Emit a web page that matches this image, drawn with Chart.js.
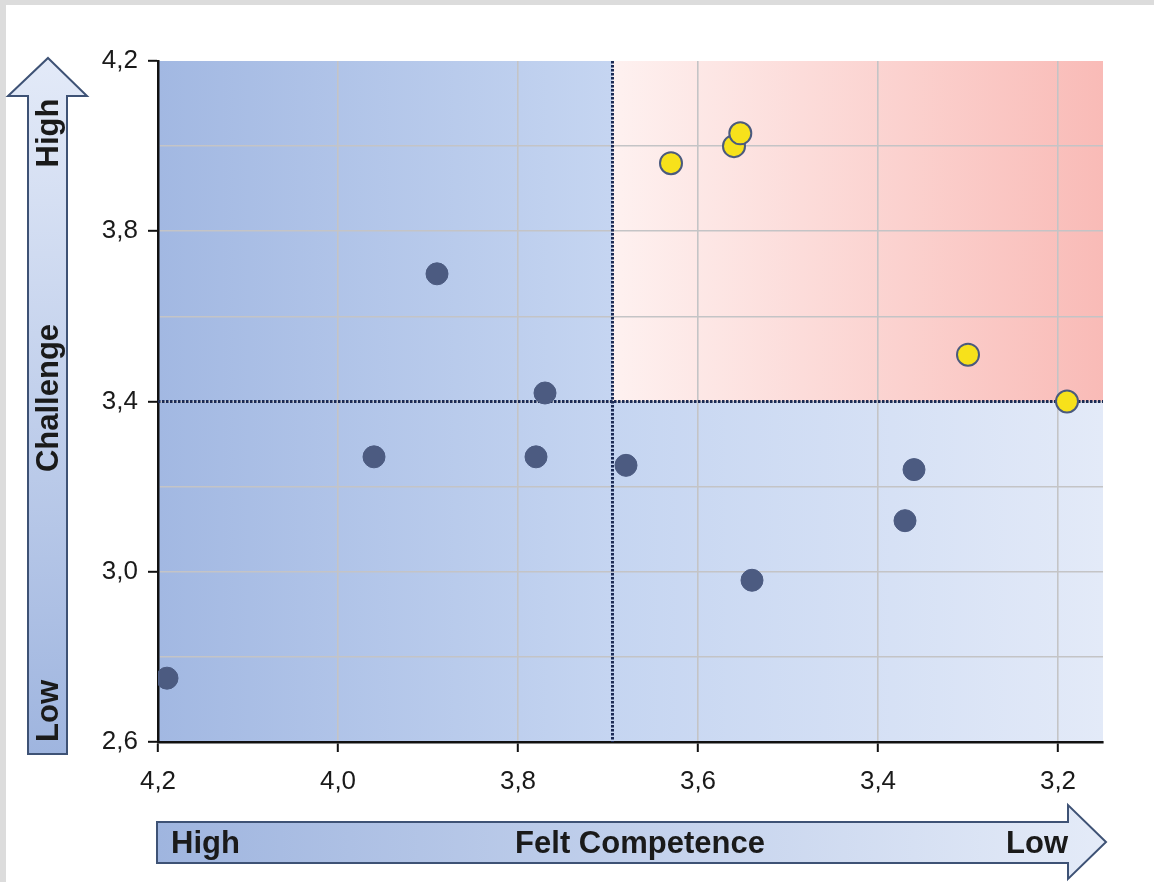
<!DOCTYPE html>
<html>
<head>
<meta charset="utf-8">
<script src="https://cdn.jsdelivr.net/npm/chart.js@4/dist/chart.umd.min.js"></script>
<style>
  html, body { margin: 0; padding: 0; background: #dcdcdc; }
  #panel { position: absolute; left: 6px; top: 5px; width: 1148px; height: 877px; background: #fff; }
  #chart { position: absolute; left: 0; top: 0; }
</style>
</head>
<body>
<div id="panel"></div>
<canvas id="chart" width="1154" height="882"></canvas>
<script>
// points outside the red quadrant (dark)
const otherCompetence = [4.19, 3.96, 3.89, 3.77, 3.78, 3.68, 3.54, 3.37, 3.36];
const otherChallenge  = [2.75, 3.27, 3.70, 3.42, 3.27, 3.25, 2.98, 3.12, 3.24];
// points in the red quadrant (yellow)
const redCompetence = [3.63, 3.56, 3.553, 3.30, 3.19];
const redChallenge  = [3.96, 4.00, 4.03, 3.51, 3.40];

const xTicks = [4.2, 4.0, 3.8, 3.6, 3.4, 3.2];
const yGrid = [2.6, 2.8, 3.0, 3.2, 3.4, 3.6, 3.8, 4.0, 4.2];
const yLabels = [2.6, 3.0, 3.4, 3.8, 4.2];
const xMin = 3.15, xMax = 4.2;
const yMin = 2.6, yMax = 4.2;
const splitCompetence = 3.695;
const splitChallenge = 3.4;

const FONT = '"Liberation Sans", Arial, sans-serif';

function toPoints(xs, ys) {
  var pts = [];
  for (var i = 0; i < xs.length; i++) {
    pts.push({x: xs[i], y: ys[i]});
  }
  return pts;
}

function fmt(v) {
  return v.toFixed(1).replace('.', ',');
}

function isLabel(v) {
  return yLabels.some(function(l) { return Math.abs(l - v) < 1e-6; });
}

const quadrants = {
  id: 'quadrants',
  beforeDraw(chart) {
    const ctx = chart.ctx;
    const a = chart.chartArea;
    const sx = chart.scales.x, sy = chart.scales.y;
    ctx.save();
    var blue = ctx.createLinearGradient(a.left, 0, a.right, 0);
    blue.addColorStop(0, '#a2b8e2');
    blue.addColorStop(0.48, '#c5d5f1');
    blue.addColorStop(1, '#e3eaf8');
    ctx.fillStyle = blue;
    ctx.fillRect(a.left, a.top, a.right - a.left, a.bottom - a.top);

    var x0 = sx.getPixelForValue(splitCompetence);
    var y0 = sy.getPixelForValue(splitChallenge);
    var red = ctx.createLinearGradient(x0, 0, a.right, 0);
    red.addColorStop(0, '#fef1f0');
    red.addColorStop(1, '#f9bbb7');
    ctx.fillStyle = red;
    ctx.fillRect(x0, a.top, a.right - x0, y0 - a.top);
    ctx.restore();
  },
  beforeDatasetsDraw(chart) {
    const ctx = chart.ctx;
    const a = chart.chartArea;
    var x0 = chart.scales.x.getPixelForValue(splitCompetence);
    var y0 = chart.scales.y.getPixelForValue(splitChallenge);
    ctx.save();
    ctx.strokeStyle = '#1c2b55';
    ctx.lineWidth = 3;
    ctx.setLineDash([2.5, 1.5]);
    ctx.beginPath();
    ctx.moveTo(x0, a.top);
    ctx.lineTo(x0, a.bottom);
    ctx.moveTo(a.left, y0);
    ctx.lineTo(a.right, y0);
    ctx.stroke();
    ctx.restore();
  },
  afterDraw(chart) {
    const ctx = chart.ctx;
    const a = chart.chartArea;
    ctx.save();
    ctx.strokeStyle = '#3e5275';
    ctx.lineWidth = 2;
    ctx.lineJoin = 'miter';

    // vertical arrow (Challenge)
    var top = a.top - 3, bottom = a.bottom + 12;
    var g = ctx.createLinearGradient(0, top, 0, bottom);
    g.addColorStop(0, '#e3eaf8');
    g.addColorStop(1, '#9fb5df');
    ctx.fillStyle = g;
    ctx.beginPath();
    ctx.moveTo(48, top);
    ctx.lineTo(87, 96);
    ctx.lineTo(67, 96);
    ctx.lineTo(67, bottom);
    ctx.lineTo(28, bottom);
    ctx.lineTo(28, 96);
    ctx.lineTo(8, 96);
    ctx.closePath();
    ctx.fill();
    ctx.stroke();

    // horizontal arrow (Felt Competence)
    var left = a.left - 1, tip = 1106;
    var h = ctx.createLinearGradient(left, 0, tip, 0);
    h.addColorStop(0, '#9fb5df');
    h.addColorStop(1, '#e4ebf8');
    ctx.fillStyle = h;
    ctx.beginPath();
    ctx.moveTo(left, 822);
    ctx.lineTo(1068, 822);
    ctx.lineTo(1068, 805);
    ctx.lineTo(tip, 842);
    ctx.lineTo(1068, 879);
    ctx.lineTo(1068, 863);
    ctx.lineTo(left, 863);
    ctx.closePath();
    ctx.fill();
    ctx.stroke();

    ctx.fillStyle = '#1a1a1a';
    ctx.font = 'bold 31px ' + FONT;
    ctx.textBaseline = 'middle';
    ctx.textAlign = 'left';
    ctx.fillText('High', 171, 844);
    ctx.textAlign = 'center';
    ctx.fillText('Felt Competence', 640, 844);
    ctx.textAlign = 'right';
    ctx.fillText('Low', 1068, 844);

    ctx.translate(48, 0);
    ctx.rotate(-Math.PI / 2);
    ctx.textAlign = 'center';
    ctx.fillText('High', -133, 1);
    ctx.fillText('Challenge', -398, 1);
    ctx.fillText('Low', -711, 1);
    ctx.restore();
  }
};

new Chart(document.getElementById('chart'), {
  type: 'scatter',
  data: {
    datasets: [
      {
        data: toPoints(otherCompetence, otherChallenge),
        backgroundColor: '#4c5b81',
        borderColor: '#4c5b81',
        borderWidth: 1,
        pointRadius: 11
      },
      {
        data: toPoints(redCompetence, redChallenge),
        backgroundColor: '#f7e11b',
        borderColor: '#4a5a7e',
        borderWidth: 2,
        pointRadius: 11
      }
    ]
  },
  options: {
    responsive: false,
    animation: false,
    layout: { padding: { left: 98, top: 61, right: 51, bottom: 80 } },
    plugins: {
      legend: { display: false },
      tooltip: { enabled: false }
    },
    scales: {
      x: {
        type: 'linear',
        reverse: true,
        min: xMin,
        max: xMax,
        afterBuildTicks: function(scale) {
          scale.ticks = xTicks.map(function(v) { return {value: v}; });
        },
        afterFit: function(scale) { scale.height = 60; },
        border: { color: '#111', width: 2.5 },
        grid: {
          color: function(c) { return (c.tick && Math.abs(c.tick.value - xMax) < 1e-6) ? 'rgba(0,0,0,0)' : '#c4c4c6'; },
          lineWidth: 1.6,
          tickLength: 10,
          tickColor: '#111',
          tickWidth: 2
        },
        ticks: {
          padding: 14,
          color: '#1a1a1a',
          font: { family: FONT, size: 26 },
          callback: function(v) { return fmt(v); }
        }
      },
      y: {
        type: 'linear',
        min: yMin,
        max: yMax,
        afterBuildTicks: function(scale) {
          scale.ticks = yGrid.map(function(v) { return {value: v}; });
        },
        afterFit: function(scale) { scale.width = 60; },
        border: { color: '#111', width: 2.5 },
        grid: {
          color: function(c) {
            if (!c.tick) return '#c4c4c6';
            var v = c.tick.value;
            return (Math.abs(v - yMin) < 1e-6 || Math.abs(v - yMax) < 1e-6) ? 'rgba(0,0,0,0)' : '#c4c4c6';
          },
          lineWidth: 1.6,
          tickLength: 10,
          tickColor: function(c) { return (c.tick && isLabel(c.tick.value)) ? '#111' : 'rgba(0,0,0,0)'; },
          tickWidth: 2
        },
        ticks: {
          padding: 10,
          color: '#1a1a1a',
          font: { family: FONT, size: 26 },
          callback: function(v) { return isLabel(v) ? fmt(v) : ''; }
        }
      }
    }
  },
  plugins: [quadrants]
});
</script>
</body>
</html>
